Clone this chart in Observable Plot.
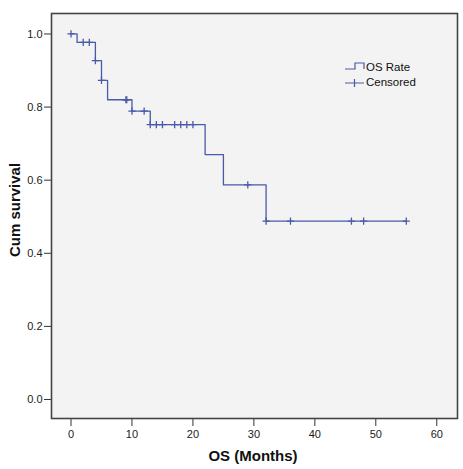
<!DOCTYPE html>
<html>
<head>
<meta charset="utf-8">
<script src="https://cdn.jsdelivr.net/npm/d3@7"></script>
<script src="https://cdn.jsdelivr.net/npm/@observablehq/plot@0.6"></script>
<style>
  html, body { margin: 0; padding: 0; background: #ffffff; }
  #chart svg { display: block; }
</style>
</head>
<body>
<div id="chart"></div>
<script>
// Kaplan-Meier step curve (time in months, cumulative survival)
const stepTimes = [0, 1, 4, 5, 6, 10, 13, 22, 25, 32];
const stepSurv  = [1.0, 0.977, 0.927, 0.873, 0.820, 0.789, 0.752, 0.670, 0.587, 0.488];
const lastTime = 55;

// Censored observations
const censorTimes = [0, 2, 3, 4, 5, 9, 9.15, 10, 12, 13, 14, 15, 17, 18, 19, 20, 29, 32, 36, 46, 48, 55];
const censorSurv  = [1.0, 0.977, 0.977, 0.927, 0.873, 0.820, 0.820, 0.789, 0.789, 0.752, 0.752, 0.752, 0.752, 0.752, 0.752, 0.752, 0.587, 0.488, 0.488, 0.488, 0.488, 0.488];

const xTicks = [0, 10, 20, 30, 40, 50, 60];
const yTicks = [0.0, 0.2, 0.4, 0.6, 0.8, 1.0];

const xTitle = "OS (Months)";
const yTitle = "Cum survival";
const legendLabels = ["OS Rate", "Censored"];

const lineData = stepTimes.map((t, i) => ({t, s: stepSurv[i]}))
  .concat([{t: lastTime, s: stepSurv[stepSurv.length - 1]}]);
const censorData = censorTimes.map((t, i) => ({t, s: censorSurv[i]}));

const blue = "#4a5aa8";

const plusSymbol = {
  draw(context, size) {
    const r = Math.sqrt(size / Math.PI);
    context.moveTo(-r, 0); context.lineTo(r, 0);
    context.moveTo(0, -r); context.lineTo(0, r);
  }
};

const W = 463, H = 469;
const chart = Plot.plot({
  width: W,
  height: H,
  marginLeft: 51,
  marginRight: 6,
  marginTop: 13,
  marginBottom: 51,
  x: {domain: [-3.2, 63.4]},
  y: {domain: [-0.052, 1.056]},
  style: {fontFamily: "Arial, 'Liberation Sans', sans-serif", fontSize: "11px", color: "#222", background: "#ffffff", overflow: "visible"},
  marks: [
    Plot.frame({fill: "#f3f3f3", stroke: null}),
    Plot.line(lineData, {x: "t", y: "s", curve: "step-after", stroke: blue, strokeWidth: 1.3}),
    Plot.dot(censorData, {x: "t", y: "s", symbol: plusSymbol, r: 3.6, stroke: blue, strokeWidth: 1.3, fill: "none"}),
    Plot.axisX({ticks: xTicks, tickSize: 8, tickPadding: 4, label: null, stroke: "#333"}),
    Plot.axisY({ticks: yTicks, tickSize: 7, tickPadding: 2, tickFormat: d3.format(".1f"), label: null, stroke: "#333"}),
    Plot.frame({stroke: "#444", strokeWidth: 1.6})
  ]
});

const svg = d3.select(chart);
const ff = "Arial, 'Liberation Sans', sans-serif";
// axis titles
svg.append("text")
  .attr("x", 253).attr("y", 461)
  .attr("text-anchor", "middle")
  .attr("font-family", ff)
  .attr("font-weight", "bold").attr("font-size", 15).attr("fill", "#111")
  .text(xTitle);
svg.append("text")
  .attr("transform", "translate(20,210) rotate(-90)")
  .attr("text-anchor", "middle")
  .attr("font-family", ff)
  .attr("font-weight", "bold").attr("font-size", 15).attr("fill", "#111")
  .text(yTitle);

// legend
const lg = svg.append("g").attr("text-anchor", "start");
lg.append("path").attr("d", "M345,69H355V63H364V69").attr("fill", "none").attr("stroke", blue).attr("stroke-width", 1.2);
lg.append("path").attr("d", "M345,83H364M354.5,79V87").attr("fill", "none").attr("stroke", blue).attr("stroke-width", 1.2);
lg.append("text").attr("x", 366).attr("y", 71).attr("text-anchor", "start").attr("font-family", ff)
  .attr("font-size", 11.5).attr("fill", "#111").text(legendLabels[0]);
lg.append("text").attr("x", 366).attr("y", 86).attr("text-anchor", "start").attr("font-family", ff)
  .attr("font-size", 11.5).attr("fill", "#111").text(legendLabels[1]);

document.getElementById("chart").appendChild(chart);
</script>
</body>
</html>
